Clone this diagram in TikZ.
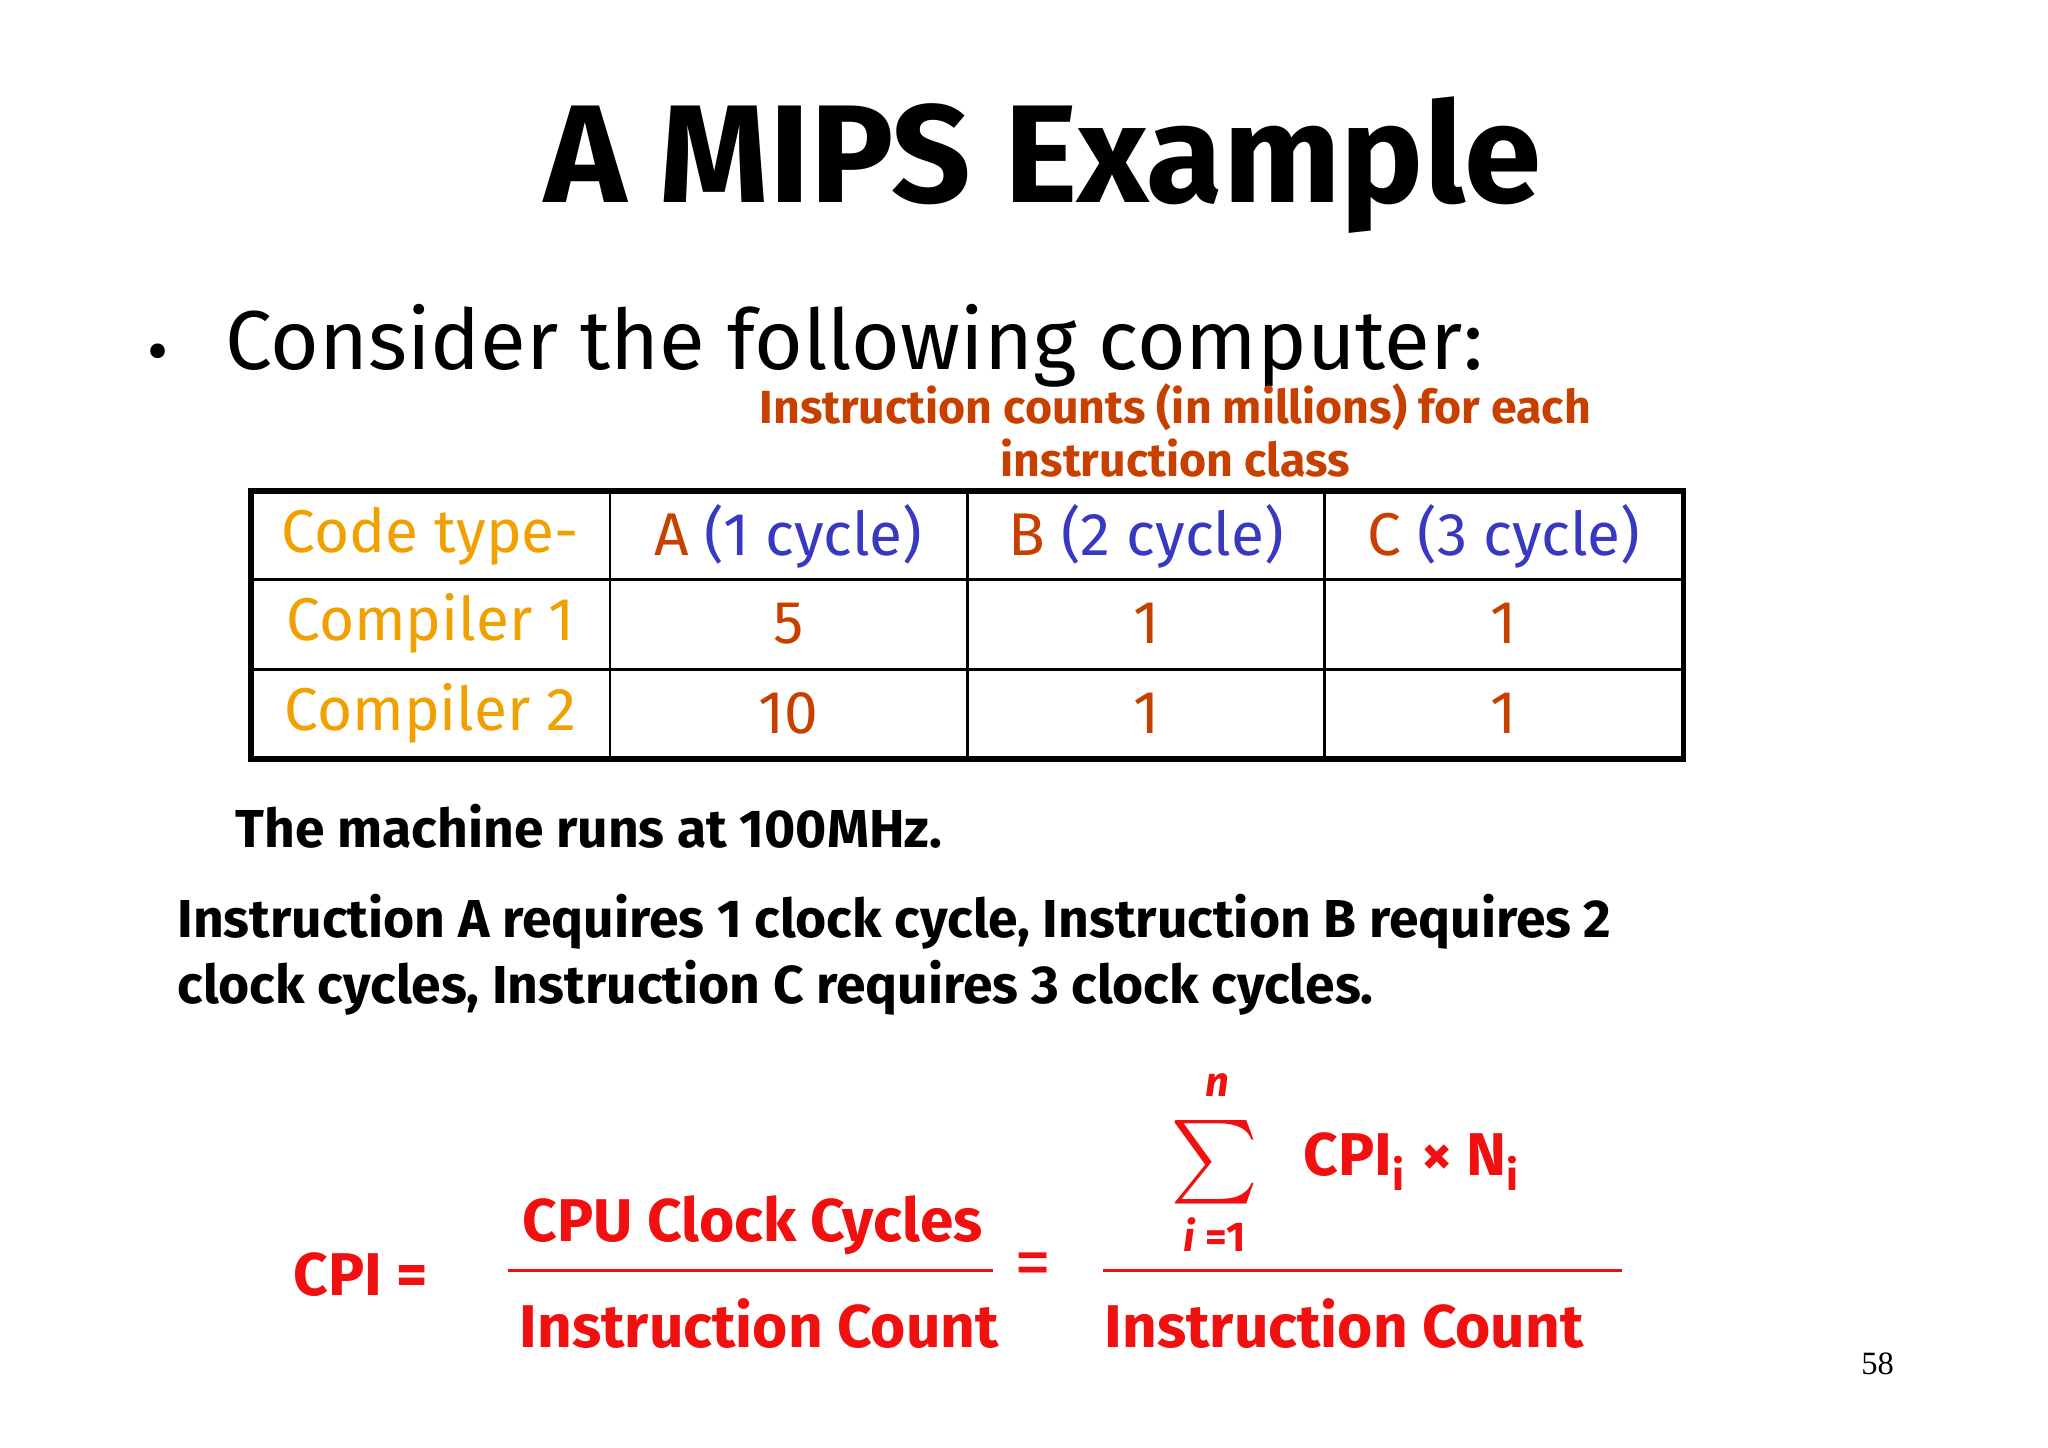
\documentclass[tikz,border=0pt]{standalone}
\usepackage{fontspec}
\setmainfont{Fira Sans}
\newfontfamily\serifnum{Liberation Serif}
\definecolor{hdr}{HTML}{F0A000}
\definecolor{ored}{HTML}{C84000}
\definecolor{cyc}{HTML}{3838C0}
\definecolor{fred}{HTML}{F01010}
\begin{document}
\begin{tikzpicture}[x=0.01cm,y=-0.01cm,
  cell/.style={font=\fontsize{13}{16}\selectfont},
  bold12/.style={font=\bfseries\fontsize{11.5}{14}\selectfont,anchor=west},
  fr/.style={text=fred,font=\bfseries\fontsize{13}{16}\selectfont}]
\useasboundingbox (0,0) rectangle (1551,1096);
\node (title) at (790,125) {\bfseries\fontsize{30}{36}\selectfont A MIPS Example};
\node (bul) at (120,272) {\fontsize{14}{16}\selectfont •};
\node[anchor=west] (cons) at (158,262) {\fontsize{18}{22}\selectfont Consider the following computer:};
\node[text=ored,align=center,font=\bfseries\fontsize{10}{11.5}\selectfont] (cap) at (890,326) {Instruction counts (in millions) for each\\instruction class};
% table
\draw[line width=1.2pt] (190,372) rectangle (1275,575);
\foreach \x in {462,733,1003}\draw[line width=0.6pt] (\x,372) -- (\x,575);
\foreach \y in {439,507}\draw[line width=0.6pt] (190,\y) -- (1275,\y);
\node[cell,text=hdr] (h0) at (326,406) {Code type-};
\node[cell] (h1) at (597,406) {\textcolor{ored}{A} \textcolor{cyc}{(1 cycle)}};
\node[cell] (h2) at (868,406) {\textcolor{ored}{B} \textcolor{cyc}{(2 cycle)}};
\node[cell] (h3) at (1139,406) {\textcolor{ored}{C} \textcolor{cyc}{(3 cycle)}};
\node[cell,text=hdr] (r1) at (326,472) {Compiler 1};
\node[cell,text=ored] (r1a) at (597,472) {5};
\node[cell,text=ored] (r1b) at (868,472) {1};
\node[cell,text=ored] (r1c) at (1139,472) {1};
\node[cell,text=hdr] (r2) at (326,540) {Compiler 2};
\node[cell,text=ored] (r2a) at (597,540) {10};
\node[cell,text=ored] (r2b) at (868,540) {1};
\node[cell,text=ored] (r2c) at (1139,540) {1};
\node[bold12] (mach) at (166,626) {The machine runs at 100MHz.};
\node[bold12] (i1) at (122,698) {Instruction A requires 1 clock cycle, Instruction B requires 2};
\node[bold12] (i2) at (122,748) {clock cycles, Instruction C requires 3 clock cycles.};
% formula
\node[fr,anchor=west] (cpi) at (210,965) {CPI =};
\draw[fred,line width=0.6pt] (385,962) -- (752,962);
\node[fr] (num) at (570,928) {CPU Clock Cycles};
\node[fr] (den) at (575,1002) {Instruction Count};
\node[text=fred,font=\fontsize{16}{18}\selectfont] (eq) at (782,962) {=};
\draw[fred,line width=0.6pt] (835,962) -- (1228,962);
\node[text=fred,scale=1.8,inner sep=0pt] (sig) at (920,880) {$\sum$};
\node[text=fred,font=\bfseries\itshape\fontsize{9}{10}\selectfont] (n) at (922,822) {n};
\node[text=fred,font=\bfseries\fontsize{9}{10}\selectfont] (i1b) at (920,935) {\itshape i\upshape{} =1};
\node[fr,anchor=west] (term) at (975,880) {CPI\textsubscript{i} × N\textsubscript{i}};
\node[fr] (den2) at (1018,1002) {Instruction Count};
\node[font=\serifnum\fontsize{7}{8}\selectfont] (pg) at (1422,1033) {58};
\end{tikzpicture}
\end{document}
